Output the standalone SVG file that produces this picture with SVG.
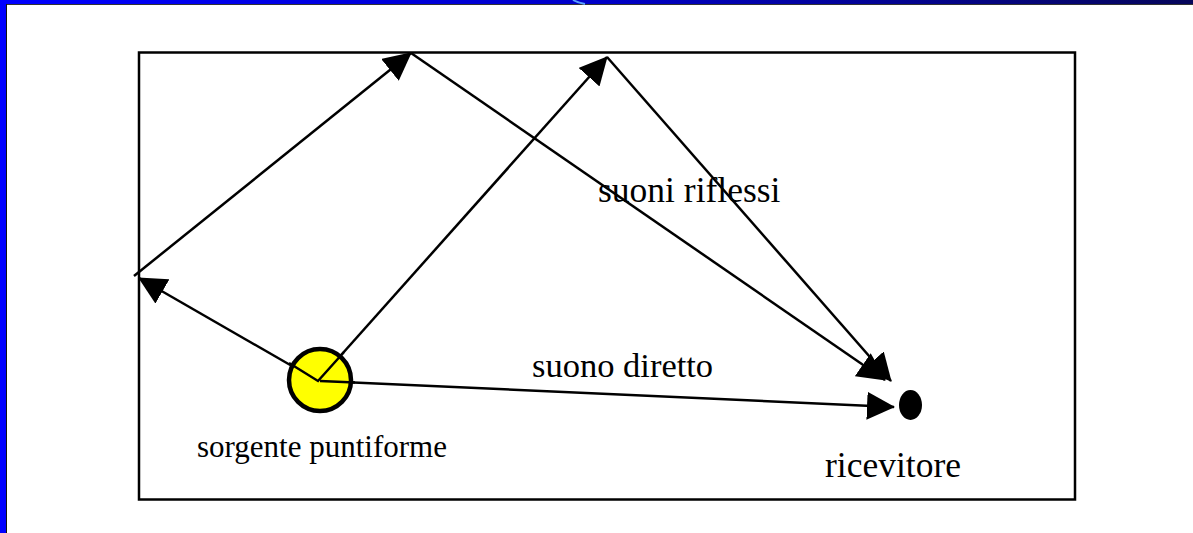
<svg xmlns="http://www.w3.org/2000/svg" width="1193" height="533" viewBox="0 0 1193 533">
  <style>
    .ln { stroke: #000; stroke-width: 2.5; fill: none; }
    .lbl { font-family: "Liberation Serif", "Times New Roman", serif; fill: #000; }
  </style>
  <defs>
    <linearGradient id="topbar" x1="0" y1="0" x2="1" y2="0">
      <stop offset="0" stop-color="#0000ff"/>
      <stop offset="0.5" stop-color="#0000c8"/>
      <stop offset="1" stop-color="#06065a"/>
    </linearGradient>
    <marker id="ah" markerUnits="userSpaceOnUse" markerWidth="28" markerHeight="28" viewBox="0 0 28 28" refX="27" refY="14" orient="auto">
      <path d="M0,0 L28,14 L0,28 Z" fill="#000"/>
    </marker>
  </defs>
  <rect width="1193" height="533" fill="#fff"/>
  <g id="frame">
    <rect x="0" y="0" width="1193" height="4" fill="url(#topbar)"/>
    <rect x="0" y="4" width="1193" height="1" fill="#333"/>
    <rect x="0" y="0" width="6" height="533" fill="#0000ff"/>
    <rect x="6" y="4" width="1" height="529" fill="#111"/>
    <path d="M573,0 Q578,3 585,4" stroke="#5aa0ff" stroke-width="2" fill="none"/>
  </g>
  <g id="room">
    <rect x="139" y="52.5" width="936" height="447" class="ln"/>
  </g>
  <g id="connectors">
    <line x1="318" y1="381" x2="139" y2="278" class="ln" marker-end="url(#ah)"/>
    <line x1="134" y1="276" x2="411" y2="53" class="ln" marker-end="url(#ah)"/>
    <line x1="411" y1="53" x2="885" y2="380" class="ln" marker-end="url(#ah)"/>
    <line x1="318" y1="381" x2="607" y2="57" class="ln" marker-end="url(#ah)"/>
    <line x1="607" y1="57" x2="891" y2="381" class="ln" marker-end="url(#ah)"/>
    <line x1="320" y1="381" x2="894" y2="407" class="ln" marker-end="url(#ah)"/>
  </g>
  <g id="source">
    <circle cx="320" cy="380" r="31" fill="#ffff00" stroke="#000" stroke-width="4.5"/>
    <polyline points="289,363 318,381 344,352" class="ln"/>
    <line x1="320" y1="381" x2="355" y2="382.5" class="ln"/>
    <text x="197" y="457" class="lbl" font-size="31">sorgente puntiforme</text>
  </g>
  <g id="receiver">
    <ellipse cx="910.5" cy="405" rx="11.5" ry="15" fill="#000"/>
    <text x="825" y="477" class="lbl" font-size="35.5">ricevitore</text>
  </g>
  <g id="labels">
    <text x="598" y="202" class="lbl" font-size="35.5">suoni riflessi</text>
    <text x="532" y="377" class="lbl" font-size="34.5">suono diretto</text>
  </g>
</svg>
